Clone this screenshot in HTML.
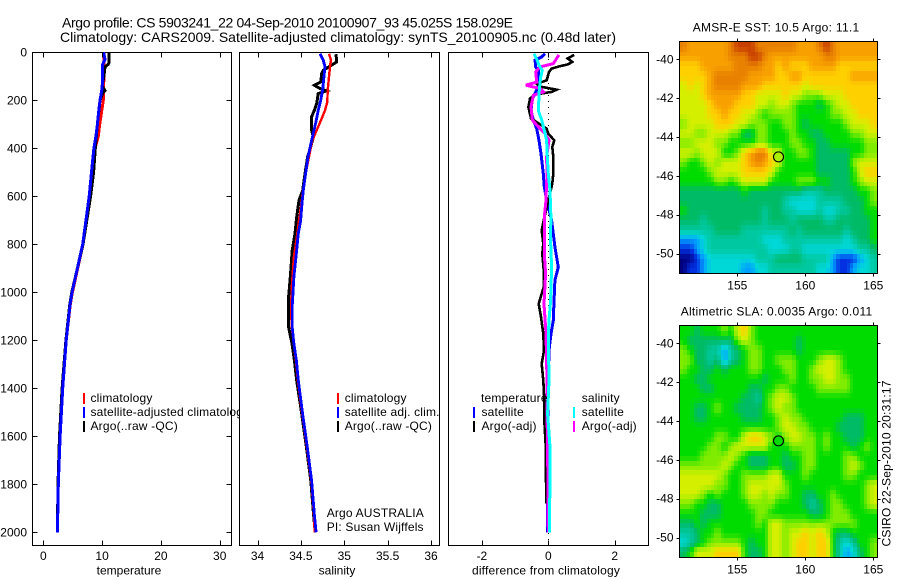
<!DOCTYPE html>
<html lang="en">
<head>
<meta charset="utf-8">
<title>Argo profile CS 5903241_22</title>
<style>
html,body{margin:0;padding:0;background:#fff;}
svg{display:block;}
text{font-family:"Liberation Sans",sans-serif;font-size:12px;fill:#000;}
.title{font-size:14px;}
.ls{letter-spacing:.18px;}
.mark{fill:none;stroke-linejoin:miter;shape-rendering:crispEdges;}
.frame{fill:#fff;stroke:#000;stroke-width:1;shape-rendering:crispEdges;}
.frame-open{fill:none;stroke:#000;stroke-width:1;shape-rendering:crispEdges;}
.tick{stroke:#000;stroke-width:1;shape-rendering:crispEdges;}
</style>
</head>
<body>
<svg id="chart" xmlns="http://www.w3.org/2000/svg" width="900" height="580" viewBox="0 0 900 580">
  <rect x="0" y="0" width="900" height="580" fill="#fff"/>

  <g id="panel-temp">
    <rect class="frame" x="32.5" y="52.5" width="199" height="493"/>
    <g id="marks-temp"></g>
    <g>
      <rect x="83" y="393" width="2" height="11" fill="#f00"/>
      <rect x="83" y="407" width="2" height="11" fill="#00f"/>
      <rect x="83" y="421" width="2" height="11" fill="#000"/>
      <text class="ls" x="90.5" y="402">climatology</text>
      <text class="ls" x="90.5" y="416">satellite-adjusted climatology</text>
      <text class="ls" x="90.5" y="430">Argo(..raw -QC)</text>
    </g>
    <text x="129" y="574.5" text-anchor="middle">temperature</text>
  </g>

  <g id="panel-sal">
    <rect class="frame" x="239.5" y="52.5" width="200" height="493"/>
    <g id="marks-sal"></g>
    <g>
      <rect x="337" y="393" width="2" height="11" fill="#f00"/>
      <rect x="337" y="407" width="2" height="11" fill="#00f"/>
      <rect x="337" y="421" width="2" height="11" fill="#000"/>
      <text class="ls" x="344.7" y="402">climatology</text>
      <text class="ls" x="344.7" y="416">satellite adj. clim.</text>
      <text class="ls" x="344.7" y="430">Argo(..raw -QC)</text>
    </g>
    <text class="ls" x="326.7" y="517">Argo AUSTRALIA</text>
    <text class="ls" x="326.7" y="531">PI: Susan Wijffels</text>
    <text x="337" y="574.5" text-anchor="middle">salinity</text>
  </g>

  <g id="panel-diff">
    <rect class="frame" x="448.5" y="52.5" width="200" height="493"/>
    <g id="marks-diff"></g>
    <g>
      <text class="ls" x="481" y="402">temperature</text>
      <text class="ls" x="581.7" y="402">salinity</text>
      <rect x="473" y="407" width="2" height="11" fill="#00f"/>
      <rect x="473" y="421" width="2" height="11" fill="#000"/>
      <rect x="573" y="407" width="2" height="11" fill="#0ff"/>
      <rect x="573" y="421" width="2" height="11" fill="#f0f"/>
      <text class="ls" x="481.5" y="416">satellite</text>
      <text class="ls" x="481.5" y="430">Argo(-adj)</text>
      <text class="ls" x="581.7" y="416">satellite</text>
      <text class="ls" x="581.7" y="430">Argo(-adj)</text>
    </g>
    <text class="ls" x="546" y="574.5" text-anchor="middle">difference from climatology</text>
  </g>

  <text class="title" x="62" y="27.5" textLength="451" lengthAdjust="spacing">Argo profile: CS 5903241_22 04-Sep-2010 20100907_93 45.025S 158.029E</text>
  <text class="title" x="60" y="42" textLength="556" lengthAdjust="spacing">Climatology: CARS2009. Satellite-adjusted climatology: synTS_20100905.nc (0.48d later)</text>

  <g id="map-sst"></g>
  <g id="map-sla"></g>

  <text x="692.7" y="31.5" textLength="166.5" lengthAdjust="spacing">AMSR-E SST: 10.5  Argo: 11.1</text>
  <text x="680.7" y="315.5" textLength="191.5" lengthAdjust="spacing">Altimetric SLA: 0.0035  Argo: 0.011</text>
  <text transform="translate(890.5 546.5) rotate(-90)" textLength="166" lengthAdjust="spacing">CSIRO 22-Sep-2010 20:31:17</text>
</svg>

<script>
// ---------- profile data: depths (dbar) and values ----------
const depthTicks = [0,200,400,600,800,1000,1200,1400,1600,1800,2000];
const tempTicks = [0,10,20,30];
const salTicks = [34,34.5,35,35.5,36];
const salTickLabels = ['34','34.5','35','35.5','36'];
const diffTicks = [-2,0,2];

const tempClimDepth = [0,100,200,250,300,350,400,500,600,800,1000,1050,1200,1400,1600,1800,2000];
const tempClimValue = [10.3,10.3,10.2,9.9,9.6,9.35,8.8,8.3,7.85,6.75,4.95,4.6,3.9,3.3,2.85,2.55,2.4];
const tempSatDepth = [0,30,50,100,150,200,250,300,350,400,500,600,800,1000,1050,1200,1400,1600,1800,2000];
const tempSatValue = [10.26,10.5,10.1,10.1,10,9.65,9.4,9.2,8.95,8.6,8.2,7.8,6.7,4.9,4.55,3.9,3.3,2.85,2.55,2.4];
const tempArgoDepth = [0,40,50,60,100,140,160,170,200,300,400,500,600,800,1000,1050,1200,1400,1600,1800,2000];
const tempArgoValue = [11.2,11.2,11.05,10.5,10.3,10,10.5,10.1,9.65,9.2,8.85,8.55,8.05,6.75,4.85,4.5,3.85,3.2,2.75,2.5,2.4];

const salClimDepth = [6,33,47,89,158,207,242,283,325,367,436,506,575,644,700,756,853,964,1061,1145,1284,1367,1506,1645,1784,1923,2000];
const salClimValue = [34.824,34.847,34.84,34.828,34.809,34.805,34.778,34.732,34.682,34.632,34.594,34.555,34.525,34.501,34.478,34.459,34.42,34.398,34.386,34.394,34.443,34.465,34.515,34.569,34.619,34.65,34.659];
const salSatDepth = [6,33,61,89,158,200,242,283,325,367,436,506,575,644,700,756,853,936,1061,1145,1214,1284,1367,1506,1645,1784,1923,2000];
const salSatValue = [34.72,34.759,34.778,34.77,34.751,34.728,34.70,34.678,34.651,34.624,34.582,34.555,34.528,34.509,34.498,34.47,34.444,34.42,34.40,34.40,34.42,34.448,34.47,34.52,34.574,34.624,34.655,34.675];
const salArgoDepth = [8,40,58,75,89,124,137,151,161,172,214,242,269,325,353,394,436,506,575,617,686,756,825,922,1020,1145,1214,1284,1367,1506,1645,1784,1923,2000];
const salArgoValue = [34.905,34.913,34.836,34.759,34.74,34.728,34.655,34.72,34.797,34.70,34.682,34.655,34.624,34.624,34.644,34.613,34.578,34.548,34.521,34.478,34.452,34.432,34.40,34.382,34.359,34.359,34.398,34.425,34.452,34.51,34.564,34.614,34.645,34.665];

const diffTempSatDepth = [6,19,33,61,75,117,158,193,242,283,318,367,422,506,561,617,700,756,811,895,950,1048,1117,1173,1242,1367,2000];
const diffTempSatValue = [-0.10,-0.20,-0.40,-0.38,-0.30,-0.27,-0.35,-0.48,-0.52,-0.45,-0.35,-0.28,-0.22,-0.15,-0.12,-0.05,0.10,0.15,0.20,0.30,0.20,0.17,0.15,0.08,0.02,0,-0.02];
const diffTempArgoDepth = [11,26,40,50,58,68,82,117,131,144,156,165,176,193,228,276,318,339,367,394,436,506,547,617,700,742,798,839,923,978,1048,1103,1173,1242,1298,1367,1450,1534,1631,1881];
const diffTempArgoValue = [0.78,0.58,0.72,0.60,0.35,0.10,0.02,-0.05,-0.35,-0.20,0.25,0.10,-0.40,-0.55,-0.60,-0.52,-0.05,0,0.18,0.12,0.15,0.15,0.12,0,-0.14,-0.20,-0.15,-0.18,-0.13,-0.14,-0.29,-0.22,-0.15,-0.13,-0.20,-0.15,-0.12,-0.12,-0.08,-0.06];
const diffSalSatDepth = [6,33,54,75,103,158,242,283,325,367,436,506,575,700,756,895,1034,1103,1173,1367,1506,1645,2000];
const diffSalSatValue = [-0.43,-0.33,-0.28,-0.18,-0.23,-0.27,-0.30,-0.20,-0.12,-0.05,-0.03,0,0.05,0.08,0.06,0.10,0.07,0.03,0,0.02,-0.02,0.05,0.04];
const diffSalArgoDepth = [11,26,47,61,82,124,137,151,165,179,228,283,318,339,367,436,506,575,617,686,756,839,923,1048,1173,1367,1506,1645,2000];
const diffSalArgoValue = [0.32,0.25,0.15,-0.25,-0.38,-0.35,-0.68,-0.25,-0.15,-0.45,-0.52,-0.48,-0.25,-0.10,0.02,-0.05,-0.04,-0.06,-0.07,-0.12,-0.12,-0.12,-0.08,-0.13,-0.07,-0.04,-0.04,-0.02,0];

// ---------- map data: colour levels on a 0.5 degree grid ----------
const lonTicks = [155,160,165];
const latTicks = [-40,-42,-44,-46,-48,-50];
const floatLon = 158.029;
const floatLat = -45.025;
const sstArgoLevel = 7.5;
const slaArgoLevel = 6;

const sstLevels = [
[11,10,10,10,10,10,10,11,12,12,12,11,11,11,11,11,11,10,10,10,11,12,11,10,10,10,10,10,10],
[10,10,10,10,10,10,10,11,11,11,12,12,11,10,10,10,10,10,10,10,10,11,11,10,10,10,10,10,10],
[9,9,9,10,10,10,10,10,11,11,11,11,10,10,9,10,9,9,9,10,10,10,10,9,9,9,9,9,9],
[9,9,9,9,10,11,11,11,11,11,10,10,10,10,9,9,10,10,9,9,9,9,9,9,9,10,10,10,10],
[8,9,8,9,10,11,11,11,11,10,10,10,9,9,9,9,9,9,8,9,9,9,9,9,9,9,9,9,9],
[8,8,8,9,10,10,10,10,10,9,9,8,8,8,8,9,8,8,7,7,7,8,8,8,9,9,9,9,9],
[8,8,8,8,9,10,10,10,9,9,9,8,8,7,8,8,7,6,6,6,5,6,7,8,8,9,9,9,9],
[8,8,8,8,9,9,10,9,9,8,8,7,6,7,7,7,7,6,6,6,6,6,7,7,8,8,9,9,9],
[7,8,8,8,8,9,9,9,8,8,7,7,7,6,6,7,7,6,5,6,6,6,6,6,7,8,8,8,9],
[8,8,7,7,8,8,8,7,7,5,5,7,7,6,6,6,7,6,6,5,5,6,6,6,6,7,7,8,8],
[7,7,8,8,8,7,7,6,6,6,6,7,7,6,6,6,7,7,6,6,5,5,6,6,6,6,6,7,7],
[8,8,7,8,8,8,6,6,7,9,10,11,11,8,8,6,6,7,7,6,5,5,5,5,5,6,6,7,7],
[7,6,6,7,8,7,8,8,8,9,10,11,10,9,8,6,6,6,6,6,5,5,5,5,5,7,8,8,8],
[6,6,6,6,7,8,8,8,8,9,9,9,9,8,6,6,6,6,6,6,5,5,5,5,5,6,8,9,9],
[6,6,6,6,6,7,7,6,7,8,8,8,8,6,6,6,6,7,7,7,6,6,5,5,5,6,7,8,8],
[5,5,5,5,5,5,5,5,5,6,5,5,5,5,5,5,5,5,4,4,4,5,5,5,5,5,6,6,7],
[5,5,5,5,5,5,5,5,5,5,5,5,5,5,5,4,3,3,3,3,4,4,4,4,5,5,5,6,7],
[6,5,5,5,5,5,5,5,5,5,5,5,4,5,5,4,4,3,3,3,4,3,3,4,4,5,5,6,6],
[5,5,5,4,5,5,5,5,5,5,5,5,4,5,5,5,4,5,5,5,5,4,4,5,5,5,5,5,6],
[4,4,4,4,4,5,5,5,5,4,4,4,4,4,4,4,5,4,5,5,5,5,5,5,4,5,5,5,6],
[2,2,2,3,4,4,4,4,4,4,4,4,3,3,3,4,4,4,4,4,4,4,4,4,3,4,5,5,6],
[1,1,2,3,4,4,4,4,4,4,4,4,4,3,3,3,4,4,3,3,3,3,3,3,3,3,4,4,5],
[0,0,1,2,3,3,3,3,3,3,3,4,4,4,5,5,5,5,4,4,4,4,2,1,1,1,2,3,4],
[0,1,1,2,3,3,3,3,3,2,2,3,3,4,4,4,4,4,4,4,3,3,2,1,1,2,3,3,4]
];

const slaLevels = [
[6,6,5,6,6,6,7,6,8,9,7,6,6,6,6,6,6,6,6,6,6,6,6,6,6,6,6,6,6],
[6,5,5,5,5,5,5,5,7,8,7,6,6,6,6,6,6,5,6,6,6,6,6,6,6,6,6,6,6],
[7,6,5,5,4,4,2,4,5,6,7,7,6,6,6,6,6,5,6,6,6,6,6,6,6,6,6,6,6],
[7,7,5,5,4,5,2,4,5,6,7,7,6,6,7,7,7,6,6,6,7,8,8,7,6,6,6,6,6],
[7,6,6,5,5,6,5,6,6,6,7,7,6,6,6,7,7,6,6,7,8,8,8,7,6,6,6,6,6],
[6,6,5,5,6,6,6,6,6,6,6,6,5,6,6,6,7,6,6,7,7,8,8,7,7,6,6,6,6],
[6,6,6,5,5,6,6,6,6,6,5,5,6,6,7,7,6,6,6,6,7,7,7,7,7,6,6,6,6],
[6,6,6,6,6,6,6,6,6,5,5,4,6,7,8,8,7,6,6,6,6,6,6,6,6,6,6,6,6],
[6,6,5,5,6,7,6,6,5,5,5,5,6,7,8,7,7,6,6,6,6,6,6,6,6,6,6,6,6],
[6,6,5,5,6,6,6,6,6,5,5,5,6,6,7,8,7,7,6,6,6,6,6,6,5,5,5,6,6],
[6,6,6,6,6,6,6,6,6,6,6,6,6,6,7,8,8,7,7,6,6,6,6,5,5,5,5,6,6],
[6,6,6,6,6,7,7,6,6,8,9,9,8,7,6,7,8,8,7,7,6,7,6,6,5,5,5,6,6],
[6,6,6,6,7,7,6,7,8,8,8,8,8,6,6,6,7,7,7,7,6,7,6,6,6,5,6,7,6],
[6,6,6,7,7,7,7,8,7,6,5,5,5,6,6,5,6,6,7,7,6,6,6,6,7,7,6,6,6],
[7,7,7,7,7,7,8,7,6,6,5,5,5,6,6,5,5,6,7,7,6,6,6,6,7,8,7,6,6],
[8,8,8,8,8,8,7,6,6,7,7,7,7,8,8,6,6,6,7,6,6,6,6,6,7,7,6,6,6],
[8,8,8,8,8,7,7,6,6,7,8,8,8,8,8,7,6,6,6,6,6,6,6,6,6,6,6,7,8],
[8,8,8,7,6,7,6,6,6,7,8,8,7,8,7,7,6,6,5,5,6,6,7,6,6,6,6,7,8],
[7,7,6,6,5,5,6,6,6,6,7,7,7,7,6,6,6,6,5,4,5,6,7,7,6,6,6,7,8],
[6,6,6,5,5,5,6,6,6,6,6,7,7,6,6,6,6,6,6,5,5,6,7,7,7,6,6,6,6],
[5,5,6,5,6,6,6,6,6,6,6,7,6,8,8,7,7,7,7,7,7,7,7,7,7,7,6,6,6],
[4,4,5,6,6,7,6,6,6,6,6,6,6,8,8,7,8,8,9,8,9,8,6,5,5,6,6,6,6],
[3,4,5,6,7,7,7,7,7,6,5,6,6,8,8,7,8,9,9,8,9,9,6,4,3,4,6,6,7],
[5,6,8,8,8,9,9,9,9,6,5,5,6,8,8,7,8,9,9,8,9,9,6,4,2,3,5,6,7]
];

const colourStops = ['#00007f','#0030e0','#00a0ff','#00d8d8','#00c8a0','#00bb66','#00dc00','#80ec00','#d4f000','#ffd000','#f8a000','#e88000','#c84000'];

// ---------- axis functions ----------
const NS = 'http://www.w3.org/2000/svg';
const yDepth = d => 52.3 + d * 0.24;
const xTemp = v => 43.3 + v * 5.88;
const xSal = v => 257.5 + (v - 34) * 86.75;
const xDiff = v => 548.3 + v * 33.2;
const xLon = lon => 737.3 + (lon - 155) * 13.6;

function make(tag, parent, attrs) {
  const el = document.createElementNS(NS, tag);
  for (const k in attrs) el.setAttribute(k, attrs[k]);
  parent.appendChild(el);
  return el;
}
function hexToRgb(h) {
  return [parseInt(h.slice(1,3),16), parseInt(h.slice(3,5),16), parseInt(h.slice(5,7),16)];
}
function levelColour(v) {
  const c = Math.max(0, Math.min(colourStops.length - 1, v));
  const i = Math.min(colourStops.length - 2, Math.floor(c));
  const f = c - i;
  const a = hexToRgb(colourStops[i]), b = hexToRgb(colourStops[i + 1]);
  return 'rgb(' + a.map((q, n) => Math.round(q + (b[n] - q) * f)).join(',') + ')';
}
// shading: sample the level grid at a fractional position
function sampleLevel(levels, rf, cf) {
  const nR = levels.length, nC = levels[0].length;
  const r = Math.max(0, Math.min(nR - 1, rf)), c = Math.max(0, Math.min(nC - 1, cf));
  const r0 = Math.floor(r), c0 = Math.floor(c);
  const r1 = Math.min(nR - 1, r0 + 1), c1 = Math.min(nC - 1, c0 + 1);
  const fr = r - r0, fc = c - c0;
  return levels[r0][c0] * (1 - fr) * (1 - fc) + levels[r0][c1] * (1 - fr) * fc +
         levels[r1][c0] * fr * (1 - fc) + levels[r1][c1] * fr * fc;
}

function drawLine(parent, name, depths, values, xFn, colour, width) {
  const pts = depths.map((d, i) => xFn(values[i]).toFixed(1) + ',' + yDepth(d).toFixed(1)).join(' ');
  const el = make('polyline', parent, {points: pts, stroke: colour, 'stroke-width': width, class: 'mark'});
  
  
}

function drawXTicks(parent, ticks, labels, xFn) {
  ticks.forEach((t, i) => {
    const x = Math.round(xFn(t)) + 0.5;
    const top = make('line', parent, {x1: x, x2: x, y1: 52.5, y2: 57.5, class: 'tick'});
    
    
    const bot = make('line', parent, {x1: x, x2: x, y1: 540.5, y2: 545.5, class: 'tick'});
    
    
    const lab = make('text', parent, {x: xFn(t), y: 560, 'text-anchor': 'middle'});
    lab.textContent = labels[i];
    
    
  });
}

// temperature panel
const gTemp = document.getElementById('marks-temp');
drawLine(gTemp, 'temperature-climatology-line', tempClimDepth, tempClimValue, xTemp, '#f00', 3);
drawLine(gTemp, 'temperature-argo-line', tempArgoDepth, tempArgoValue, xTemp, '#000', 3);
drawLine(gTemp, 'temperature-satellite-line', tempSatDepth, tempSatValue, xTemp, '#00f', 3);
drawXTicks(gTemp, tempTicks, tempTicks.map(String), xTemp);
depthTicks.forEach(d => {
  const y = Math.round(yDepth(d)) + 0.5;
  const l = make('line', gTemp, {x1: 32.5, x2: 37.5, y1: y, y2: y, class: 'tick'});
  
  
  const r = make('line', gTemp, {x1: 226.5, x2: 231.5, y1: y, y2: y, class: 'tick'});
  
  
  const t = make('text', gTemp, {x: 27, y: yDepth(d) + 4, 'text-anchor': 'end'});
  t.textContent = String(d);
  
  
});

// salinity panel
const gSal = document.getElementById('marks-sal');
drawLine(gSal, 'salinity-argo-line', salArgoDepth, salArgoValue, xSal, '#000', 3);
drawLine(gSal, 'salinity-climatology-line', salClimDepth, salClimValue, xSal, '#f00', 2.4);
drawLine(gSal, 'salinity-satellite-line', salSatDepth, salSatValue, xSal, '#00f', 2.8);
drawXTicks(gSal, salTicks, salTickLabels, xSal);

// difference panel
const gDiff = document.getElementById('marks-diff');
const zero = make('line', gDiff, {x1: 548.5, x2: 548.5, y1: 53, y2: 545, stroke: '#000', 'stroke-width': 1, 'stroke-dasharray': '1 5', 'shape-rendering': 'crispEdges'});


drawLine(gDiff, 'difference-temperature-satellite-line', diffTempSatDepth, diffTempSatValue, xDiff, '#00f', 3);
drawLine(gDiff, 'difference-temperature-argo-line', diffTempArgoDepth, diffTempArgoValue, xDiff, '#000', 2.6);
drawLine(gDiff, 'difference-salinity-argo-line', diffSalArgoDepth, diffSalArgoValue, xDiff, '#f0f', 3);
drawLine(gDiff, 'difference-salinity-satellite-line', diffSalSatDepth, diffSalSatValue, xDiff, '#0ff', 3);
drawXTicks(gDiff, diffTicks, diffTicks.map(String), xDiff);

// maps
const subdivide = 2;
function drawMap(groupId, levels, argoLevel, top, bottom, lat40Y, prefix) {
  const g = document.getElementById(groupId);
  const yLat = lat => lat40Y + (-40 - lat) * 19.42;
  const left = 680, right = 877.2;
  const nRows = levels.length * subdivide, nCols = levels[0].length * subdivide;
  const cw = (right - left) / nCols, ch = (bottom - top) / nRows;
  for (let r = 0; r < nRows; r++) {
    for (let c = 0; c < nCols; c++) {
      const v = sampleLevel(levels, (r + 0.5) / subdivide - 0.5, (c + 0.5) / subdivide - 0.5);
      const x0 = Math.round(left + c * cw), x1 = Math.round(left + (c + 1) * cw);
      const y0 = Math.round(top + r * ch), y1 = Math.round(top + (r + 1) * ch);
      const cell = make('rect', g, {x: x0, y: y0, width: x1 - x0, height: y1 - y0, fill: levelColour(v), 'shape-rendering': 'crispEdges'});
      
      
    }
  }
  const frame = make('rect', g, {x: 679.5, y: Math.round(top) - 0.5, width: 198, height: Math.round(bottom) - Math.round(top) + 1, class: 'frame-open'});
  
  
  const fTop = Math.round(top) - 0.5, fBot = Math.round(bottom) + 0.5;
  lonTicks.forEach(lon => {
    const x = Math.round(xLon(lon)) + 0.5;
    const a = make('line', g, {x1: x, x2: x, y1: fTop - 3, y2: fTop, class: 'tick'});
    
    
    const b = make('line', g, {x1: x, x2: x, y1: fBot, y2: fBot + 3, class: 'tick'});
    
    
    const t = make('text', g, {x: xLon(lon), y: fBot + 16, 'text-anchor': 'middle'});
    t.textContent = String(lon);
    
    
  });
  latTicks.forEach(lat => {
    const y = Math.round(yLat(lat)) + 0.5;
    const a = make('line', g, {x1: 676.5, x2: 679.5, y1: y, y2: y, class: 'tick'});
    
    
    const b = make('line', g, {x1: 877.5, x2: 880.5, y1: y, y2: y, class: 'tick'});
    
    
    const t = make('text', g, {x: 673.5, y: yLat(lat) + 4, 'text-anchor': 'end'});
    t.textContent = String(lat);
    
    
  });
  const dot = make('circle', g, {cx: xLon(floatLon), cy: yLat(floatLat), r: 5, fill: levelColour(argoLevel), stroke: '#000', 'stroke-width': 1.1});
  
  
}
drawMap('map-sst', sstLevels, sstArgoLevel, 42, 273, 59.3, 'sst');
drawMap('map-sla', slaLevels, slaArgoLevel, 326, 557, 343.3, 'sla');
</script>
</body>
</html>
